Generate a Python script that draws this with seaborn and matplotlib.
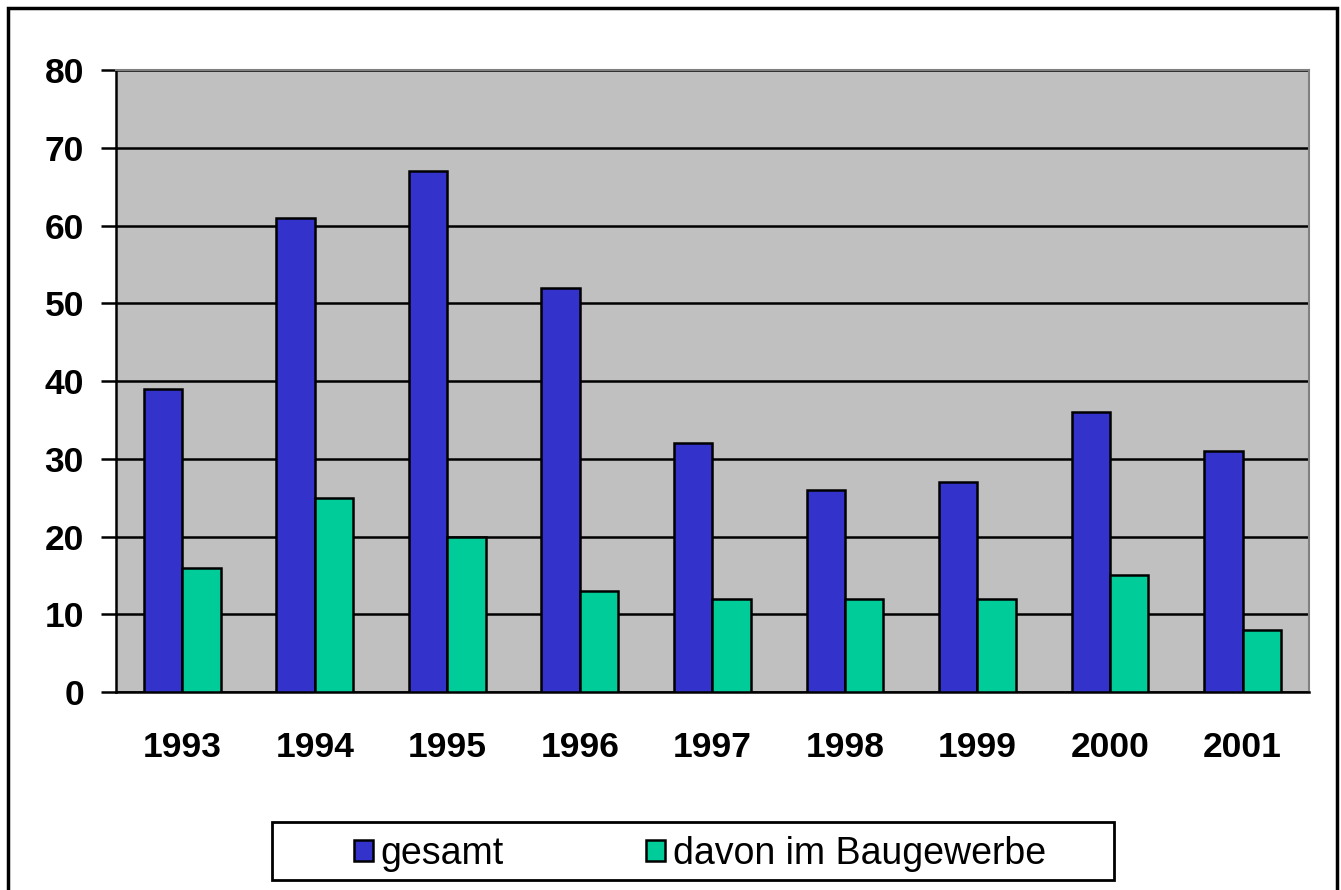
import matplotlib

matplotlib.use("Agg")

import matplotlib.pyplot as plt
import pandas as pd
import seaborn as sns
from matplotlib.patches import Rectangle

years = ["1993", "1994", "1995", "1996", "1997", "1998", "1999", "2000", "2001"]
gesamt = [39, 61, 67, 52, 32, 26, 27, 36, 31]
baugewerbe = [16, 25, 20, 13, 12, 12, 12, 15, 8]
series_names = ["gesamt", "davon im Baugewerbe"]
colors = ["#3333CC", "#00CC99"]

df = pd.DataFrame({
    "Jahr": years * 2,
    "Wert": gesamt + baugewerbe,
    "Reihe": [series_names[0]] * len(years) + [series_names[1]] * len(years),
})

sns.set_theme(style="white")
plt.rcParams["font.family"] = ["Liberation Sans", "DejaVu Sans"]
plt.rcParams["text.color"] = "black"
plt.rcParams["xtick.labelcolor"] = "black"
plt.rcParams["ytick.labelcolor"] = "black"

fig = plt.figure(figsize=(13.41, 8.90), dpi=100)
ax = fig.add_axes([0.0865, 0.2225, 0.8895, 0.6985])

sns.barplot(data=df, x="Jahr", y="Wert", hue="Reihe", palette=colors, width=0.58,
            edgecolor="black", linewidth=1.8, saturation=1, ax=ax, zorder=3)

ax.set_facecolor("#C0C0C0")
ax.set_ylim(0, 80)
ax.set_yticks(range(0, 81, 10))
ax.yaxis.grid(True, color="black", linewidth=1.8, zorder=1)
ax.set_axisbelow(True)
ax.set_xlabel("")
ax.set_ylabel("")

for side in ["left", "bottom"]:
    ax.spines[side].set_color("black")
    ax.spines[side].set_linewidth(1.8)
for side in ["top", "right"]:
    ax.spines[side].set_color("#808080")
    ax.spines[side].set_linewidth(1.5)

ax.tick_params(axis="y", direction="out", length=11, width=1.8, color="black",
               left=True, labelsize=25.5, pad=12)
ax.tick_params(axis="x", length=0, labelsize=25.5, pad=28)
for lbl in ax.get_xticklabels() + ax.get_yticklabels():
    lbl.set_fontweight("bold")

# legend entries without frame, the box is drawn separately (wide Excel-style box)
leg = ax.legend(loc="center", bbox_to_anchor=(700 / 1341, 1 - 854 / 890),
                bbox_transform=fig.transFigure, ncol=2, frameon=False,
                fontsize=27, handlelength=0.5, handleheight=0.5,
                columnspacing=3.8, handletextpad=0.2, borderpad=0, title=None)
for h in leg.legend_handles:
    h.set_edgecolor("black")
    h.set_linewidth(1.8)

fig.patches.append(Rectangle((272 / 1341, 1 - 880 / 890), 842 / 1341, 58 / 890,
                             transform=fig.transFigure, fill=False, edgecolor="black",
                             linewidth=2))

# outer chart frame
fig.patches.append(Rectangle((8 / 1341, -0.05), 1329 / 1341, 1.041, transform=fig.transFigure,
                             fill=False, edgecolor="black", linewidth=2.5, clip_on=False))

fig.savefig("out.png", dpi=100)
